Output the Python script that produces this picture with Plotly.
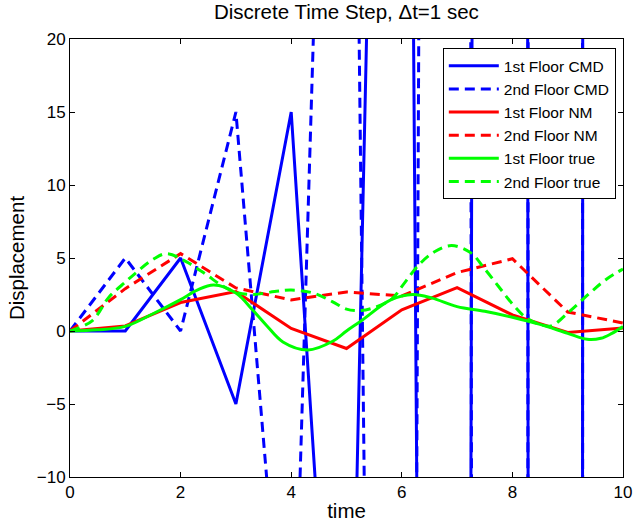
import plotly.graph_objects as go

# discrete time steps (dt = 1 s)
t_step = [0, 1, 2, 3, 4, 5, 6, 7, 8, 9, 10]
cmd_floor1 = [0, 0, 5, -5, 15, -43, 131, -390, 1129, -2885, 7818]
cmd_floor2 = [0, 5, 0, 15, -30, 95, -233, 593, -1726, 4403, -11941]
nm_floor1 = [0, 0.35, 1.95, 2.7, 0.17, -1.2, 1.45, 2.97, 1.1, -0.1, 0.2]
nm_floor2 = [0, 2.9, 5.3, 2.95, 2.13, 2.67, 2.4, 4.0, 4.95, 1.3, 0.55]

# true response
t_true1 = [0, 0.5, 1.0, 1.5, 2.0, 2.3, 2.6, 3.0, 3.3, 3.55, 3.85, 4.3, 4.75, 5.0,
           5.25, 5.8, 6.2, 6.55, 7.0, 7.5, 8.0, 8.5, 9.0, 9.35, 9.6, 9.8, 10]
true_floor1 = [0, 0.08, 0.32, 1.18, 2.15, 2.8, 3.15, 2.6, 1.45, 0.4, -0.75, -1.3, -0.7, 0.0,
               0.65, 2.13, 2.5, 2.25, 1.67, 1.35, 0.94, 0.45, -0.16, -0.57, -0.5, -0.16, 0.3]
t_true2 = [0, 0.4, 0.7, 1.0, 1.15, 1.5, 1.75, 2.1, 2.45, 2.75, 3.0, 3.3, 3.7, 4.0, 4.4,
           4.75, 5.0, 5.25, 5.5, 5.82, 6.05, 6.3, 6.6, 6.9, 7.25, 7.5, 7.75, 8.0, 8.25,
           8.5, 8.7, 9.05, 9.4, 9.7, 10]
true_floor2 = [0, 0.7, 2.3, 3.35, 3.85, 4.9, 5.3, 4.75, 3.9, 3.1, 2.65, 2.5, 2.7, 2.8, 2.6,
               2.0, 1.5, 1.4, 1.6, 2.2, 3.3, 4.5, 5.45, 5.85, 5.35, 4.25, 3.05, 1.85, 0.9,
               0.45, 0.35, 1.4, 2.6, 3.55, 4.25]

FONT = "Liberation Sans, Arial, Helvetica, sans-serif"
DASH = "10px,6px"
BLUE, RED, GREEN = "#0000FF", "#FF0000", "#00FF00"

fig = go.Figure()
fig.add_trace(go.Scatter(x=t_step, y=cmd_floor1, mode="lines", name="1st Floor CMD",
                         line=dict(color=BLUE, width=3)))
fig.add_trace(go.Scatter(x=t_step, y=cmd_floor2, mode="lines", name="2nd Floor CMD",
                         line=dict(color=BLUE, width=3, dash=DASH)))
fig.add_trace(go.Scatter(x=t_step, y=nm_floor1, mode="lines", name="1st Floor NM",
                         line=dict(color=RED, width=3)))
fig.add_trace(go.Scatter(x=t_step, y=nm_floor2, mode="lines", name="2nd Floor NM",
                         line=dict(color=RED, width=3, dash=DASH)))
fig.add_trace(go.Scatter(x=t_true1, y=true_floor1, mode="lines", name="1st Floor true",
                         line=dict(color=GREEN, width=3, shape="spline", smoothing=1)))
fig.add_trace(go.Scatter(x=t_true2, y=true_floor2, mode="lines", name="2nd Floor true",
                         line=dict(color=GREEN, width=3, dash=DASH, shape="spline", smoothing=1)))

axis_common = dict(showgrid=False, zeroline=False, showline=True, linecolor="black",
                   linewidth=1, mirror="ticks", ticks="inside", ticklen=5, tickcolor="black",
                   automargin=False,
                   tickfont=dict(family=FONT, size=17, color="black"))

fig.update_layout(
    width=635, height=523,
    margin=dict(l=70, r=12, t=39, b=46),
    paper_bgcolor="white", plot_bgcolor="white",
    font=dict(family=FONT, color="black"),
    title=dict(text="Discrete Time Step, \u0394t=1 sec", x=0.5455, xref="container",
               y=1 - 12 / 523, yref="container", xanchor="center", yanchor="middle",
               font=dict(family=FONT, size=20.5, color="black")),
    xaxis=dict(range=[0, 10], dtick=2, tick0=0,
               title=dict(text="time", font=dict(family=FONT, size=20.5), standoff=2),
               **axis_common),
    yaxis=dict(range=[-10, 20], dtick=5, tick0=-10,
               title=dict(text="Displacement", font=dict(family=FONT, size=20.5), standoff=6),
               **axis_common),
    legend=dict(x=0.987, xanchor="right", y=0.979, yanchor="top",
                bgcolor="white", bordercolor="black", borderwidth=1,
                font=dict(family=FONT, size=15.5, color="black"),
                itemwidth=50, tracegroupgap=0),
    showlegend=True,
)

fig.write_html("out.html")
